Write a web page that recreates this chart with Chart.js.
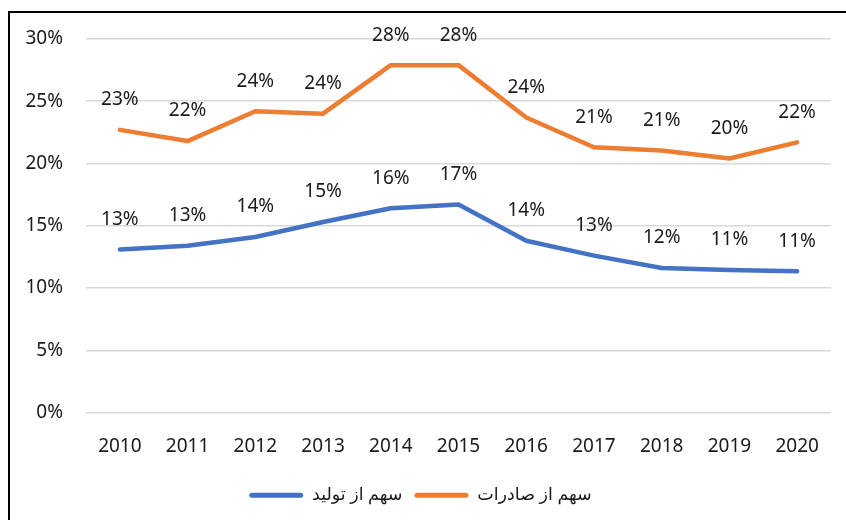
<!DOCTYPE html>
<html>
<head>
<meta charset="utf-8">
<script src="https://cdn.jsdelivr.net/npm/chart.js@4"></script>
<style>
  html, body { margin: 0; padding: 0; background: #fff; }
  #wrap { position: relative; width: 846px; height: 520px; overflow: hidden; }
  #frame {
    position: absolute; left: 8px; top: 11px; width: 900px; height: 600px;
    border-left: 2px solid #000; border-top: 2px solid #000; pointer-events: none;
  }
</style>
</head>
<body>
<div id="wrap">
  <canvas id="lineChart" width="846" height="520"></canvas>
  <div id="frame"></div>
</div>
<script>
// years on the x axis
const years = ["2010", "2011", "2012", "2013", "2014", "2015", "2016", "2017", "2018", "2019", "2020"];

// share of production (blue) and share of exports (orange), in percent
const productionShare = [13.1, 13.4, 14.1, 15.3, 16.4, 16.7, 13.8, 12.6, 11.6, 11.45, 11.35];
const exportShare = [22.7, 21.8, 24.2, 24.0, 27.9, 27.9, 23.7, 21.3, 21.05, 20.4, 21.7];

const seriesNames = ["سهم از تولید", "سهم از صادرات"];
const yTicks = [0, 5, 10, 15, 20, 25, 30];

const FONT = "'Noto Sans', 'DejaVu Sans', sans-serif";
const TEXT = "#1a1a1a";

// draws the value above each point, like excel data labels
const pointLabels = {
  id: "pointLabels",
  afterDatasetsDraw(chart) {
    const ctx = chart.ctx;
    ctx.save();
    ctx.font = "19px " + FONT;
    ctx.fillStyle = TEXT;
    ctx.textAlign = "center";
    ctx.textBaseline = "middle";
    chart.data.datasets.forEach((ds, i) => {
      const meta = chart.getDatasetMeta(i);
      meta.data.forEach((pt, j) => {
        ctx.fillText(Math.round(ds.data[j]) + "%", pt.x, pt.y - 30);
      });
    });
    ctx.restore();
  },
};

const ctx = document.getElementById("lineChart").getContext("2d");

new Chart(ctx, {
  type: "line",
  data: {
    labels: years,
    datasets: [
      {
        label: seriesNames[0],
        data: productionShare,
        borderColor: "#4472C4",
        backgroundColor: "#4472C4",
      },
      {
        label: seriesNames[1],
        data: exportShare,
        borderColor: "#ED7D31",
        backgroundColor: "#ED7D31",
      },
    ],
  },
  options: {
    responsive: false,
    animation: false,
    elements: {
      line: { borderWidth: 4.5, tension: 0, borderCapStyle: "round", borderJoinStyle: "round" },
      point: { radius: 0, hoverRadius: 0 },
    },
    layout: { padding: { left: 10, right: 15, top: 39, bottom: 6 } },
    scales: {
      x: {
        offset: true,
        grid: { display: false },
        border: { display: false },
        ticks: { color: TEXT, font: { family: FONT, size: 19 }, padding: 15, maxRotation: 0 },
        afterFit: (s) => { s.height = 62; },
      },
      y: {
        min: 0,
        max: 30,
        afterBuildTicks: (s) => { s.ticks = yTicks.map((v) => ({ value: v })); },
        grid: { color: "#d9d9d9", lineWidth: 1.5, drawTicks: false },
        border: { display: false },
        ticks: {
          color: TEXT,
          font: { family: FONT, size: 19 },
          padding: 23,
          callback: (v) => v + "%",
        },
        afterFit: (s) => { s.width = 76; },
      },
    },
    plugins: {
      tooltip: { enabled: false },
      legend: {
        position: "bottom",
        labels: {
          color: TEXT,
          font: { family: FONT, size: 17.5 },
          boxWidth: 54,
          boxHeight: 5,
          padding: 12,
          useBorderRadius: true,
          borderRadius: 2.5,
          generateLabels: (chart) =>
            Chart.defaults.plugins.legend.labels.generateLabels(chart).map((l) => ({ ...l, lineWidth: 0 })),
        },
      },
    },
  },
  plugins: [pointLabels],
});
</script>
</body>
</html>
